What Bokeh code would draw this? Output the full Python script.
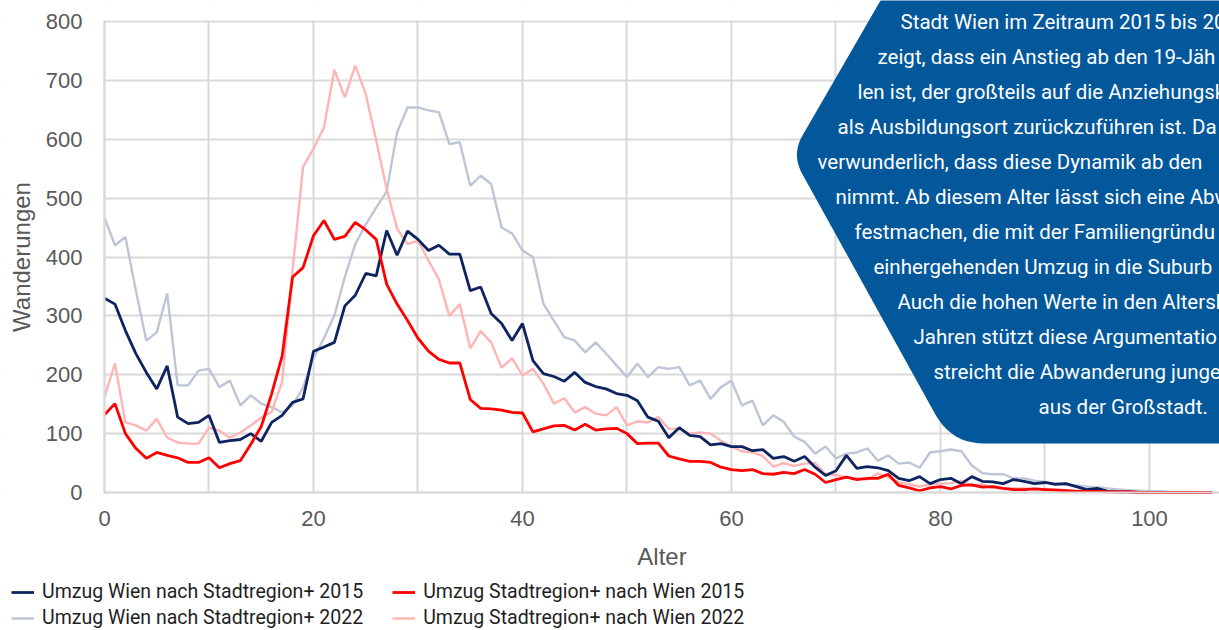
from bokeh.plotting import figure
from bokeh.models import Range1d, FixedTicker, Legend, LegendItem, PolyAnnotation, Label, BoxAnnotation
from bokeh.embed import file_html
from bokeh.resources import INLINE

# ---------------- data ----------------
ages = list(range(0, 107))

wien_2015 = [330, 320, 275, 236, 204, 176, 215, 128, 117, 119,
             131, 85, 88, 90, 100, 87, 119, 131, 153, 159,
             240, 247, 255, 317, 335, 372, 368, 445, 403, 444,
             430, 411, 420, 405, 405, 343, 349, 304, 287, 258,
             287, 224, 202, 197, 189, 204, 187, 180, 176, 168,
             165, 156, 128, 121, 93, 110, 97, 95, 81, 83,
             78, 78, 71, 73, 58, 61, 53, 61, 43, 29,
             37, 63, 41, 44, 42, 37, 24, 20, 27, 15,
             22, 24, 15, 27, 19, 18, 15, 22, 19, 15,
             17, 14, 15, 10, 5, 7, 2, 1, 1, 0,
             0, 0, 0, 0, 0, 0, 0]

wien_2022 = [467, 420, 434, 343, 258, 272, 338, 182, 182, 207,
             210, 179, 190, 148, 165, 151, 145, 136, 148, 178,
             228, 262, 301, 366, 422, 455, 484, 511, 612, 654,
             654, 649, 646, 592, 595, 521, 538, 524, 450, 440,
             411, 400, 321, 292, 264, 258, 238, 255, 236, 216,
             196, 219, 196, 213, 210, 213, 182, 190, 159, 179,
             190, 148, 156, 114, 131, 120, 95, 86, 66, 78,
             58, 66, 68, 75, 54, 63, 49, 51, 42, 68,
             70, 73, 70, 46, 33, 31, 31, 24, 24, 20,
             18, 15, 13, 12, 10, 9, 7, 5, 4, 3,
             2, 2, 1, 1, 1, 0, 0]

stadt_2015 = [132, 151, 100, 75, 58, 68, 63, 59, 51, 51,
              59, 42, 49, 54, 82, 112, 168, 232, 366, 382,
              436, 462, 430, 435, 459, 446, 430, 354, 320, 292,
              262, 240, 226, 220, 220, 158, 143, 142, 140, 136,
              135, 103, 108, 113, 114, 106, 116, 106, 108, 109,
              100, 83, 84, 84, 62, 57, 53, 53, 51, 43,
              39, 37, 39, 32, 31, 34, 32, 39, 31, 17,
              22, 26, 22, 24, 24, 31, 12, 8, 3, 8,
              10, 6, 12, 13, 9, 10, 7, 5, 5, 6,
              5, 4, 3, 2, 2, 2, 1, 1, 1, 0,
              0, 0, 0, 0, 0, 0, 0]

stadt_2022 = [162, 219, 119, 114, 105, 125, 93, 85, 83, 83,
              110, 105, 93, 102, 114, 127, 137, 188, 378, 553,
              584, 620, 718, 671, 725, 677, 598, 516, 448, 422,
              428, 394, 362, 300, 320, 245, 274, 255, 212, 228,
              199, 210, 185, 151, 160, 136, 145, 134, 131, 145,
              114, 121, 119, 128, 108, 108, 100, 102, 100, 88,
              78, 70, 68, 62, 44, 50, 45, 49, 50, 31,
              30, 26, 24, 22, 32, 26, 17, 14, 10, 14,
              15, 16, 20, 12, 14, 8, 7, 7, 7, 6,
              6, 5, 4, 3, 3, 2, 2, 1, 1, 1,
              0, 0, 0, 0, 0, 0, 0]

x_ticks = [0, 20, 40, 60, 80, 100]
x_grid_ticks = list(range(0, 110, 10))
y_ticks = list(range(0, 900, 100))

legend_row1 = ["Umzug Wien nach Stadtregion+ 2015", "Umzug Stadtregion+ nach Wien 2015"]
legend_row2 = ["Umzug Wien nach Stadtregion+ 2022", "Umzug Stadtregion+ nach Wien 2022"]

callout_lines = [
    "Stadt Wien im Zeitraum 2015 bis 20",
    "zeigt, dass ein Anstieg ab den 19-Jäh",
    "len ist, der großteils auf die Anziehungsk",
    "als Ausbildungsort zurückzuführen ist. Da",
    "verwunderlich, dass diese Dynamik ab den",
    "nimmt. Ab diesem Alter lässt sich eine Abw",
    "festmachen, die mit der Familiengründu",
    "einhergehenden Umzug in die Suburb",
    "Auch die hohen Werte in den Altersk",
    "Jahren stützt diese Argumentatio",
    "streicht die Abwanderung junge",
    "aus der Großstadt.",
]

# ---------------- style ----------------
NAVY = "#0E2461"
LIGHTBLUE = "#BDC5D7"
RED = "#FF0000"
PINK = "#FFB5B5"
BOX = "#03579B"
GRID = "#D9D9D9"
TXT = "#595959"

W, H = 1219, 630
ORIG_X, ORIG_Y = 104.0, 492.0      # page pixels of data (0, 0)
TOP_Y = 21.0                       # page pixel of the 800 line
X_END = 106.7
PX_X = (W - ORIG_X) / X_END
PX_Y = (ORIG_Y - TOP_Y) / 800.0


def xd(px):
    return (px - ORIG_X) / PX_X


def yd(py):
    return (ORIG_Y - py) / PX_Y


# the frame covers the whole canvas; axes sit at fixed data positions
p = figure(width=W, height=H, output_backend="svg", toolbar_location=None,
           x_range=Range1d(xd(0), xd(W)), y_range=Range1d(yd(H), yd(0)),
           min_border_left=0, min_border_right=0, min_border_top=0, min_border_bottom=0)
p.outline_line_color = None
p.background_fill_color = "white"

for g, t in ((p.xgrid, x_grid_ticks), (p.ygrid, y_ticks)):
    g.ticker = FixedTicker(ticks=t)
    g.grid_line_color = GRID
    g.grid_line_width = 2
    g.level = "image"

# hide grid lines outside the plotting area
eps_y = 1.2 / PX_Y
eps_x = 1.2 / PX_X
for kw in (dict(bottom=800 + eps_y), dict(top=-eps_y), dict(right=-eps_x)):
    p.add_layout(BoxAnnotation(fill_color="white", fill_alpha=1.0, line_color=None,
                               level="underlay", **kw))

p.xaxis.ticker = FixedTicker(ticks=x_ticks)
p.yaxis.ticker = FixedTicker(ticks=y_ticks)
p.xaxis.fixed_location = 0
p.yaxis.fixed_location = 0
p.xaxis.bounds = (0, X_END)
p.yaxis.bounds = (0, 800)
for ax in (p.xaxis[0], p.yaxis[0]):
    ax.axis_line_color = GRID
    ax.axis_line_width = 2
    ax.major_tick_line_color = None
    ax.minor_tick_line_color = None
    ax.major_tick_out = 0
    ax.major_tick_in = 0
    ax.minor_tick_out = 0
    ax.major_label_text_font = "Liberation Sans"
    ax.major_label_text_font_size = "22px"
    ax.major_label_text_color = TXT
    ax.axis_label_text_font = "Liberation Sans"
    ax.axis_label_text_font_size = "24px"
    ax.axis_label_text_font_style = "normal"
    ax.axis_label_text_color = TXT

p.xaxis.axis_label = "Alter"
p.yaxis.axis_label = "Wanderungen"
p.xaxis.major_label_standoff = 18
p.xaxis.axis_label_standoff = 14
p.yaxis.major_label_standoff = 22
p.yaxis.axis_label_standoff = 8

r_w22 = p.line(ages, wien_2022, line_color=LIGHTBLUE, line_width=2.4)
r_s22 = p.line(ages, stadt_2022, line_color=PINK, line_width=2.4)
r_w15 = p.line(ages, wien_2015, line_color=NAVY, line_width=2.8)
r_s15 = p.line(ages, stadt_2015, line_color=RED, line_width=2.8)


def add_legend(labels, renderers, row_center_px):
    lg = Legend(items=[LegendItem(label=l, renderers=[r]) for l, r in zip(labels, renderers)],
                location=(11, H - (row_center_px + 10)), orientation="horizontal",
                label_text_font="Roboto", label_text_font_size="19.5px", label_text_color="#1F1F1F",
                glyph_width=23, glyph_height=20, label_height=20, label_standoff=8, spacing=29,
                padding=0, margin=0, border_line_color=None, background_fill_alpha=0)
    p.add_layout(lg)


add_legend(legend_row1, [r_w15, r_s15], 593)
add_legend(legend_row2, [r_w22, r_s22], 619)

# ---------------- callout box ----------------
def bezier(p0, c, p1, n=10):
    out = []
    for i in range(n + 1):
        t = i / n
        out.append(((1 - t) ** 2 * p0[0] + 2 * (1 - t) * t * c[0] + t ** 2 * p1[0],
                    (1 - t) ** 2 * p0[1] + 2 * (1 - t) * t * c[1] + t ** 2 * p1[1]))
    return out


def unit(a, b):
    dx, dy = b[0] - a[0], b[1] - a[1]
    n = (dx * dx + dy * dy) ** 0.5
    return dx / n, dy / n


top_pt = (880.0, 0.0)
left_c = (791.0, 154.0)
bot_c = (951.0, 443.0)
u_up = unit(left_c, top_pt)
u_dn = unit(left_c, bot_c)
u_bk = unit(bot_c, left_c)
d1, d2 = 22.0, 33.0
pts = [(1260.0, -20.0), (880.0 + 0.579 * 20.0, -20.0)]
pts += bezier((left_c[0] + d1 * u_up[0], left_c[1] + d1 * u_up[1]), left_c,
              (left_c[0] + d1 * u_dn[0], left_c[1] + d1 * u_dn[1]))
pts += bezier((bot_c[0] + d2 * u_bk[0], bot_c[1] + d2 * u_bk[1]), bot_c,
              (bot_c[0] + d2, bot_c[1]))
pts += [(1260.0, 443.0)]

box = PolyAnnotation(xs=[xd(a) for a, b in pts], ys=[yd(b) for a, b in pts],
                     fill_color=BOX, fill_alpha=1.0, line_color=None, level="annotation")
p.add_layout(box)

line_x_px = [900, 877, 857, 837, 817, 835, 854, 873, 897, 913, 933, 1038]
line_y_px = [21 + 35 * i for i in range(len(callout_lines))]
for txt, lx, ly in zip(callout_lines, line_x_px, line_y_px):
    p.add_layout(Label(x=xd(lx), y=yd(ly), text=txt, text_color="white",
                       text_font="Roboto", text_font_size="20.5px",
                       text_baseline="middle", text_align="left", level="overlay"))

open("out.html", "w").write(file_html(p, INLINE))
